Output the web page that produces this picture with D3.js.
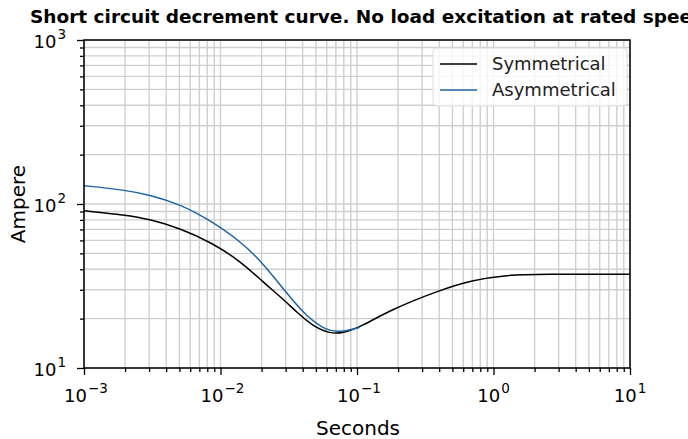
<!DOCTYPE html>
<html>
<head>
<meta charset="utf-8">
<script src="https://cdn.jsdelivr.net/npm/d3@7"></script>
<style>
  body { margin: 0; background: #fff; }
  svg { display: block; font-family: "DejaVu Sans", sans-serif; }
</style>
</head>
<body>
<svg id="chart"></svg>
<script>
// values
const symTime = [0.001, 0.002, 0.00305, 0.00505, 0.00881, 0.0139, 0.0206, 0.0292, 0.0362, 0.0479, 0.0634, 0.0789, 0.105, 0.175, 0.406, 0.711, 1.25, 2.19, 10]
const symAmp  = [91.0, 85.7, 80.7, 71.1, 57.6, 44.9, 33.4, 26.0, 21.9, 17.9, 16.2, 16.3, 17.7, 22.6, 29.9, 34.4, 36.9, 37.3, 37.3]
const asymTime = [0.001, 0.002, 0.00305, 0.00505, 0.00793, 0.0139, 0.0206, 0.0306, 0.0428, 0.060, 0.075, 0.105]
const asymAmp  = [129.4, 121.7, 113.4, 99.5, 81.8, 59.7, 43.4, 28.5, 20.5, 16.9, 16.5, 17.7]
const xMajor = [-3, -2, -1, 0, 1]
const yMajor = [1, 2, 3]
const seriesNames = ['Symmetrical', 'Asymmetrical']

const width = 688
const height = 439
const margin = {top: 40, right: 58, bottom: 71, left: 84}
const w = width - margin.left - margin.right
const h = height - margin.top - margin.bottom

const svg = d3.select('#chart').attr('width', width).attr('height', height)

const xScale = d3.scaleLog().domain([1e-3, 1e1]).range([0, w])
const yScale = d3.scaleLog().domain([1e1, 1e3]).range([h, 0])

const g = svg.append('g').attr('transform', `translate(${margin.left},${margin.top})`)

const minors = exps => {
    const out = []
    exps.slice(0, -1).forEach(e => {
        for (let k = 2; k <= 9; k++) out.push(k * Math.pow(10, e))
    })
    return out
}
const xMinor = minors(xMajor)
const yMinor = minors(yMajor)
const xMajorV = xMajor.map(e => Math.pow(10, e))
const yMajorV = yMajor.map(e => Math.pow(10, e))

// grid
const grid = g.append('g').attr('stroke', '#cfcfcf').attr('stroke-width', 1.4)
grid.selectAll('.gx').data(xMinor.concat(xMajorV)).enter().append('line')
    .attr('x1', d => xScale(d)).attr('x2', d => xScale(d))
    .attr('y1', 0).attr('y2', h)
grid.selectAll('.gy').data(yMinor.concat(yMajorV)).enter().append('line')
    .attr('y1', d => yScale(d)).attr('y2', d => yScale(d))
    .attr('x1', 0).attr('x2', w)

// curves
const line = d3.line()
    .x(d => xScale(d[0]))
    .y(d => yScale(d[1]))
    .curve(d3.curveBasis)

g.append('path')
    .datum(symTime.map((t, i) => [t, symAmp[i]]))
    .attr('fill', 'none').attr('stroke', '#000').attr('stroke-width', 1.5)
    .attr('d', line)
g.append('path')
    .datum(asymTime.map((t, i) => [t, asymAmp[i]]))
    .attr('fill', 'none').attr('stroke', '#1f63a3').attr('stroke-width', 1.5)
    .attr('d', line)

// axes
const xAxis = g.append('g').attr('transform', `translate(0,${h})`)
    .call(d3.axisBottom(xScale).tickValues(xMajorV).tickSize(7).tickFormat(''))
const xAxisMinor = g.append('g').attr('transform', `translate(0,${h})`)
    .call(d3.axisBottom(xScale).tickValues(xMinor).tickSize(4).tickFormat(''))
const yAxis = g.append('g')
    .call(d3.axisLeft(yScale).tickValues(yMajorV).tickSize(7).tickFormat(''))
const yAxisMinor = g.append('g')
    .call(d3.axisLeft(yScale).tickValues(yMinor).tickSize(4).tickFormat(''))
;[xAxis, xAxisMinor, yAxis, yAxisMinor].forEach(a => {
    a.select('.domain').remove()
    a.selectAll('line').attr('stroke', '#000').attr('stroke-width', 1.3)
})

g.append('rect').attr('width', w).attr('height', h)
    .attr('fill', 'none').attr('stroke', '#000').attr('stroke-width', 1.5)

// tick labels
const expLabel = (sel, e) => {
    sel.append('tspan').text('10')
    sel.append('tspan').attr('dy', -9).attr('dx', 1).attr('font-size', 13.5).text(e < 0 ? '\u2212' + (-e) : e)
}
xMajor.forEach(e => {
    const t = g.append('text').attr('x', xScale(Math.pow(10, e)) + (e < 0 ? 2 : 0)).attr('y', h + 34)
        .attr('text-anchor', 'middle').attr('font-size', 18).attr('fill', '#000')
    expLabel(t, e)
})
yMajor.forEach(e => {
    const t = g.append('text').attr('x', -18).attr('y', yScale(Math.pow(10, e)) + 8)
        .attr('text-anchor', 'end').attr('font-size', 18).attr('fill', '#000')
    expLabel(t, e)
})

// axis labels
svg.append('text').attr('x', margin.left + w / 2 + 1).attr('y', height - 4)
    .attr('text-anchor', 'middle').attr('font-size', 20).text('Seconds')
svg.append('text')
    .attr('transform', `translate(25,${margin.top + h / 2}) rotate(-90)`)
    .attr('text-anchor', 'middle').attr('font-size', 20).text('Ampere')

// title
svg.append('text').attr('x', 30).attr('y', 23)
    .attr('font-size', 18.5).attr('font-weight', 'bold')
    .text('Short circuit decrement curve. No load excitation at rated speed')

// legend
const lg = g.append('g').attr('transform', `translate(${w - 197},8)`)
lg.append('rect').attr('width', 194).attr('height', 58).attr('rx', 4)
    .attr('fill', 'rgba(255,255,255,0.8)').attr('stroke', '#dcdcdc')
const legColors = ['#000', '#1f63a3']
seriesNames.forEach((name, i) => {
    const yy = 16 + i * 26
    lg.append('line').attr('x1', 7).attr('x2', 44).attr('y1', yy).attr('y2', yy)
        .attr('stroke', legColors[i]).attr('stroke-width', 1.5)
    lg.append('text').attr('x', 59).attr('y', yy + 6).attr('font-size', 18)
        .attr('fill', '#222').text(name)
})
</script>
</body>
</html>
